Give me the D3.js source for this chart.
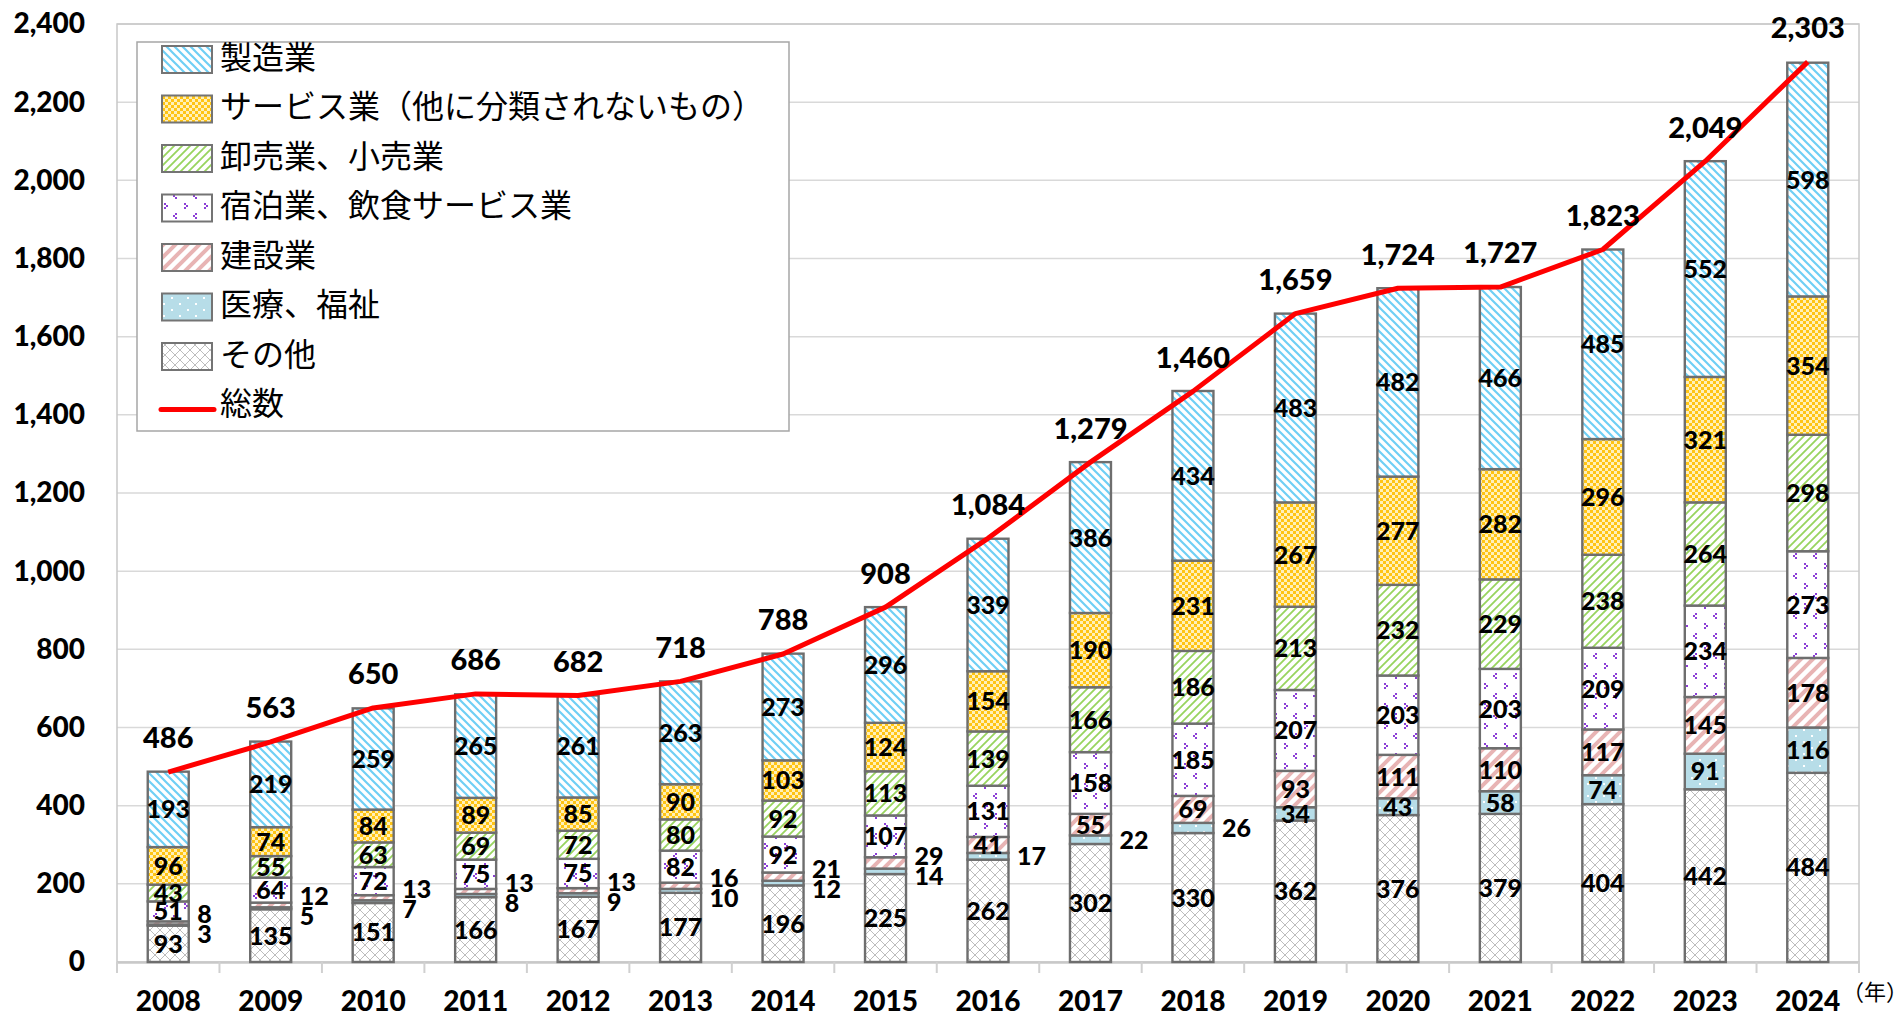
<!DOCTYPE html>
<html>
<head>
<meta charset="utf-8">
<script src="https://cdn.jsdelivr.net/npm/d3@7"></script>
<style>
  body { margin: 0; background: #fff; }
  svg text { font-family: Lato, "Noto Sans CJK JP", sans-serif; }
</style>
</head>
<body>
<div id="chart"></div>
<script>
// data (counts per year)
const years = ["2008","2009","2010","2011","2012","2013","2014","2015","2016","2017","2018","2019","2020","2021","2022","2023","2024"];
const sonota    = [93,135,151,166,167,177,196,225,262,302,330,362,376,379,404,442,484];
const iryo      = [3,5,7,8,9,10,12,14,17,22,26,34,43,58,74,91,116];
const kensetsu  = [8,12,13,13,13,16,21,29,41,55,69,93,111,110,117,145,178];
const shukuhaku = [51,64,72,75,75,82,92,107,131,158,185,207,203,203,209,234,273];
const oroshi    = [43,55,63,69,72,80,92,113,139,166,186,213,232,229,238,264,298];
const service   = [96,74,84,89,85,90,103,124,154,190,231,267,277,282,296,321,354];
const seizo     = [193,219,259,265,261,263,273,296,339,386,434,483,482,466,485,552,598];
const totals    = [486,563,650,686,682,718,788,908,1084,1279,1460,1659,1724,1727,1823,2049,2303];
const yTicks    = [0,200,400,600,800,1000,1200,1400,1600,1800,2000,2200,2400];

// stack order bottom -> top
const keys = ["sonota","iryo","kensetsu","shukuhaku","oroshi","service","seizo"];
const names = {
  seizo: "製造業",
  service: "サービス業（他に分類されないもの）",
  oroshi: "卸売業、小売業",
  shukuhaku: "宿泊業、飲食サービス業",
  kensetsu: "建設業",
  iryo: "医療、福祉",
  sonota: "その他"
};
const legendOrder = ["seizo","service","oroshi","shukuhaku","kensetsu","iryo","sonota"];

const table = years.map((yr, i) => ({
  year: yr, sonota: sonota[i], iryo: iryo[i], kensetsu: kensetsu[i],
  shukuhaku: shukuhaku[i], oroshi: oroshi[i], service: service[i], seizo: seizo[i],
  total: totals[i]
}));

const width = 1904, height = 1014;
const plot = {left: 117, right: 1859, top: 24, bottom: 962};

const svg = d3.select("#chart").append("svg")
  .attr("width", width).attr("height", height);

// fill patterns
const defs = svg.append("defs");
function pat(id, w, h, bg) {
  const p = defs.append("pattern").attr("id", id)
    .attr("patternUnits", "userSpaceOnUse").attr("width", w).attr("height", h);
  p.append("rect").attr("width", w).attr("height", h).attr("fill", bg);
  return p;
}
pat("p-seizo", 8, 8, "#fff").append("path")
  .attr("d", "M-2,-2L10,10M-2,6L2,10M6,-2L10,2")
  .attr("stroke", "#6fcff5").attr("stroke-width", 2.2);
const ps = pat("p-service", 6, 6, "#fff0b8");
ps.append("rect").attr("width", 3).attr("height", 3).attr("fill", "#ffc414");
ps.append("rect").attr("x", 3).attr("y", 3).attr("width", 3).attr("height", 3).attr("fill", "#ffc414");
pat("p-oroshi", 8, 8, "#fff").append("path")
  .attr("d", "M-2,10L10,-2M-2,2L2,-2M6,10L10,6")
  .attr("stroke", "#98d45e").attr("stroke-width", 1.8);
const pk = pat("p-shukuhaku", 20, 20, "#fff");
[[4,3],[6,5],[4,7],[15,13],[13,15],[15,17]].forEach(([cx, cy]) =>
  pk.append("rect").attr("x", cx).attr("y", cy).attr("width", 2).attr("height", 2).attr("fill", "#8c3fd6"));
pat("p-kensetsu", 12, 12, "#fff").append("path")
  .attr("d", "M-3,15L15,-3M-3,3L3,-3M9,15L15,9")
  .attr("stroke", "#e8b4b4").attr("stroke-width", 4);
const pi = pat("p-iryo", 16, 12, "#b7dde8");
[[3,3],[11,9]].forEach(([cx, cy]) =>
  pi.append("rect").attr("x", cx).attr("y", cy).attr("width", 2).attr("height", 2).attr("fill", "#fff"));
pat("p-sonota", 10, 10, "#fff").append("path")
  .attr("d", "M0,0L10,10M10,0L0,10")
  .attr("stroke", "#bdbdbd").attr("stroke-width", 1);

// scales
const x = d3.scaleBand().domain(years).range([plot.left, plot.right])
  .paddingInner(0.6).paddingOuter(0.3);
const y = d3.scaleLinear().domain([0, 2400]).range([plot.bottom, plot.top]);
const bw = x.bandwidth();
const cx = d => x(d) + bw / 2;

// gridlines
svg.append("g").selectAll("line").data(yTicks.slice(1)).join("line")
  .attr("x1", plot.left).attr("x2", plot.right)
  .attr("y1", d => y(d)).attr("y2", d => y(d))
  .attr("stroke", "#d9d9d9").attr("stroke-width", 1.5);

// plot frame
svg.append("rect").attr("x", plot.left).attr("y", plot.top)
  .attr("width", plot.right - plot.left).attr("height", plot.bottom - plot.top)
  .attr("fill", "none").attr("stroke", "#c8c8c8").attr("stroke-width", 1.5);

// y axis
const yAxis = svg.append("g").attr("transform", `translate(${plot.left},0)`)
  .call(d3.axisLeft(y).tickValues(yTicks).tickFormat(d3.format(",")).tickSize(0).tickPadding(32));
yAxis.select(".domain").remove();
yAxis.selectAll("text").attr("font-size", 28).attr("font-weight", 900).attr("fill", "#000")
  .attr("font-family", "Lato, sans-serif");

// x axis
const xAxis = svg.append("g").attr("transform", `translate(0,${plot.bottom})`)
  .call(d3.axisBottom(x).tickSize(0));
xAxis.select(".domain").attr("stroke", "#c8c8c8").attr("stroke-width", 2.5);
xAxis.selectAll("text").attr("y", 39).attr("dy", "0.35em")
  .attr("font-size", 28).attr("font-weight", 900).attr("fill", "#000")
  .attr("font-family", "Lato, sans-serif");
// boundary ticks between categories
svg.append("g").selectAll("line").data(d3.range(years.length + 1)).join("line")
  .attr("x1", i => plot.left + i * x.step()).attr("x2", i => plot.left + i * x.step())
  .attr("y1", plot.bottom).attr("y2", plot.bottom + 11)
  .attr("stroke", "#d0d0d0").attr("stroke-width", 2);

svg.append("text").attr("x", 1842).attr("y", 992).attr("dy", "0.35em")
  .attr("font-size", 22).attr("font-family", "Noto Sans CJK JP")
  .text("（年）");

// stacked bars
const series = d3.stack().keys(keys)(table);
const layer = svg.append("g").selectAll("g").data(series).join("g")
  .attr("fill", d => `url(#p-${d.key})`);
layer.selectAll("rect").data(d => d).join("rect")
  .attr("x", d => x(d.data.year))
  .attr("y", d => y(d[1]))
  .attr("width", bw)
  .attr("height", d => y(d[0]) - y(d[1]))
  .attr("stroke", "#6e6e6e").attr("stroke-width", 2.4);

// segment labels
const labels = [];
series.forEach(s => s.forEach(d => {
  const v = d.data[s.key];
  labels.push({key: s.key, year: d.data.year, v, y0: d[0], y1: d[1]});
}));
const inside = labels.filter(l => l.v >= 30);
svg.append("g").selectAll("text").data(inside).join("text")
  .attr("x", d => cx(d.year))
  .attr("y", d => y((d.y0 + d.y1) / 2))
  .attr("dy", "0.36em")
  .attr("text-anchor", "middle")
  .attr("font-size", 25).attr("font-weight", 900).attr("fill", "#000")
  .text(d => d.v);

// small values go outside the bar, to the right
const outside = labels.filter(l => l.v < 30);
outside.forEach(l => {
  const pair = outside.filter(o => o.year === l.year);
  if (pair.length === 2) {
    const mid = (d3.min(pair, o => o.y0) + d3.max(pair, o => o.y1)) / 2;
    l.ly = y(mid) + (l.key === "kensetsu" ? -10 : 10);
  } else {
    l.ly = y((l.y0 + l.y1) / 2);
  }
});
svg.append("g").selectAll("text").data(outside).join("text")
  .attr("x", d => cx(d.year) + 29)
  .attr("y", d => d.ly)
  .attr("dy", "0.36em")
  .attr("font-size", 25).attr("font-weight", 900).attr("fill", "#000")
  .text(d => d.v);

// total line
svg.append("path").datum(table)
  .attr("fill", "none").attr("stroke", "#ff0000").attr("stroke-width", 5)
  .attr("stroke-linejoin", "round")
  .attr("d", d3.line().x(d => cx(d.year)).y(d => y(d.total)));

svg.append("g").selectAll("text").data(table).join("text")
  .attr("x", d => cx(d.year))
  .attr("y", d => y(d.total) - 34)
  .attr("dy", "0.36em")
  .attr("text-anchor", "middle")
  .attr("font-size", 29).attr("font-weight", 900).attr("fill", "#000")
  .text(d => d3.format(",")(d.total));

// legend
const lg = svg.append("g");
lg.append("rect").attr("x", 137).attr("y", 42).attr("width", 652).attr("height", 389)
  .attr("fill", "#fff").attr("stroke", "#a6a6a6").attr("stroke-width", 1.5);
const rowY = i => 57 + i * 49.5;
lg.selectAll("rect.sw").data(legendOrder).join("rect").attr("class", "sw")
  .attr("x", 162).attr("y", (d, i) => rowY(i) - 11)
  .attr("width", 50).attr("height", 27)
  .attr("fill", d => `url(#p-${d})`)
  .attr("stroke", "#747474").attr("stroke-width", 2);
lg.append("line").attr("x1", 161).attr("x2", 214)
  .attr("y1", rowY(7) + 6).attr("y2", rowY(7) + 6)
  .attr("stroke", "#ff0000").attr("stroke-width", 5).attr("stroke-linecap", "round");
lg.selectAll("text").data(legendOrder.map(k => names[k]).concat(["総数"])).join("text")
  .attr("x", 220).attr("y", (d, i) => rowY(i))
  .attr("dy", "0.36em")
  .attr("font-size", 32).attr("font-family", "Noto Sans CJK JP").attr("fill", "#000")
  .text(d => d);
</script>
</body>
</html>
